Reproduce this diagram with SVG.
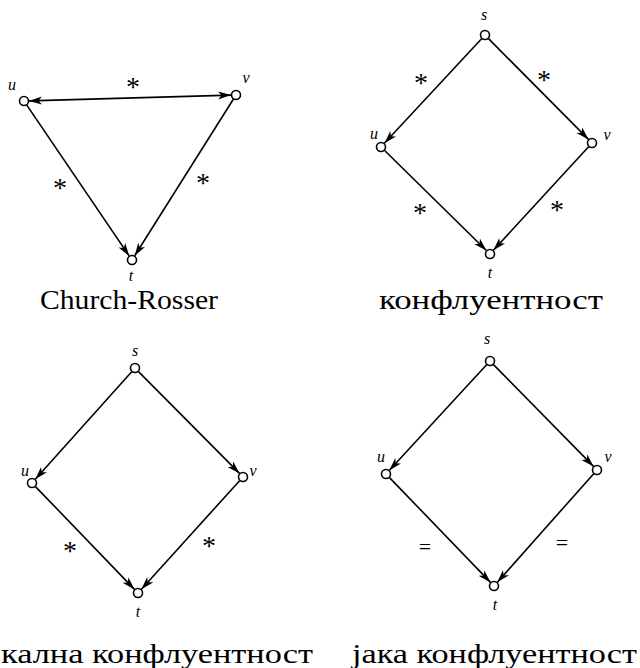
<svg xmlns="http://www.w3.org/2000/svg" width="640" height="668" viewBox="0 0 640 668">
<defs>
<marker id="arr" markerUnits="userSpaceOnUse" markerWidth="16" markerHeight="10" refX="13" refY="4" orient="auto-start-reverse">
<path d="M0,0 L13,4 L0,8 L3.5,4 z" fill="#000"/>
</marker>
<style>
.edge{stroke:#000;stroke-width:1.6;fill:none;marker-end:url(#arr)}
.node{fill:#fff;stroke:#000;stroke-width:1.6}
.lbl{font-family:"Liberation Serif",serif;font-style:italic;font-size:16px;text-anchor:middle;fill:#000}
.ast{font-family:"Liberation Serif",serif;font-size:28px;text-anchor:middle;fill:#000}
.eq{font-family:"Liberation Serif",serif;font-size:22px;text-anchor:middle;fill:#000}
.cap{font-family:"Liberation Serif",serif;font-size:28px;fill:#000}
</style>
</defs>
<rect width="640" height="668" fill="#fff"/>
<g id="connectors">
<line class="edge" x1="29" y1="100.9" x2="231" y2="95.1" style="marker-start:url(#arr)"/>
<line class="edge" x1="26.8" y1="105.1" x2="129.2" y2="255.9"/>
<line class="edge" x1="233.3" y1="99.2" x2="134.7" y2="255.8"/>
<line class="edge" x1="481.6" y1="38.7" x2="384.4" y2="143.3"/>
<line class="edge" x1="488.5" y1="38.6" x2="588.5" y2="139.4"/>
<line class="edge" x1="384.6" y1="150.5" x2="486.4" y2="250.5"/>
<line class="edge" x1="588.6" y1="146.7" x2="493.4" y2="250.3"/>
<line class="edge" x1="131.7" y1="371.7" x2="35.3" y2="479.3"/>
<line class="edge" x1="138.5" y1="371.6" x2="239.5" y2="473.4"/>
<line class="edge" x1="35.5" y1="486.6" x2="134.5" y2="589.4"/>
<line class="edge" x1="239.6" y1="480.7" x2="141.4" y2="589.3"/>
<line class="edge" x1="486.6" y1="364.7" x2="389.4" y2="470.3"/>
<line class="edge" x1="493.5" y1="364.6" x2="593.5" y2="466.4"/>
<line class="edge" x1="389.5" y1="477.6" x2="490.5" y2="582.4"/>
<line class="edge" x1="593.7" y1="473.7" x2="497.3" y2="582.3"/>
<text class="ast" x="133" y="96">*</text>
<text class="ast" x="60" y="197">*</text>
<text class="ast" x="203" y="192">*</text>
<text class="ast" x="421" y="92">*</text>
<text class="ast" x="544" y="89">*</text>
<text class="ast" x="420" y="222">*</text>
<text class="ast" x="557" y="219">*</text>
<text class="ast" x="70" y="560">*</text>
<text class="ast" x="209" y="555">*</text>
<text class="eq" x="425" y="554">=</text>
<text class="eq" x="562" y="550">=</text>
</g>
<g id="d1-u"><circle class="node" cx="24" cy="101" r="4.5"/><text class="lbl" x="12" y="90">u</text></g>
<g id="d1-v"><circle class="node" cx="236" cy="95" r="4.5"/><text class="lbl" x="246" y="83">v</text></g>
<g id="d1-t"><circle class="node" cx="132" cy="260" r="4.5"/><text class="lbl" x="131" y="281">t</text></g>
<g id="d2-s"><circle class="node" cx="485" cy="35" r="4.5"/><text class="lbl" x="484" y="20">s</text></g>
<g id="d2-u"><circle class="node" cx="381" cy="147" r="4.5"/><text class="lbl" x="374" y="139">u</text></g>
<g id="d2-v"><circle class="node" cx="592" cy="143" r="4.5"/><text class="lbl" x="607" y="140">v</text></g>
<g id="d2-t"><circle class="node" cx="490" cy="254" r="4.5"/><text class="lbl" x="490" y="278">t</text></g>
<g id="d3-s"><circle class="node" cx="135" cy="368" r="4.5"/><text class="lbl" x="135" y="356">s</text></g>
<g id="d3-u"><circle class="node" cx="32" cy="483" r="4.5"/><text class="lbl" x="25" y="476">u</text></g>
<g id="d3-v"><circle class="node" cx="243" cy="477" r="4.5"/><text class="lbl" x="253" y="476">v</text></g>
<g id="d3-t"><circle class="node" cx="138" cy="593" r="4.5"/><text class="lbl" x="138" y="617">t</text></g>
<g id="d4-s"><circle class="node" cx="490" cy="361" r="4.5"/><text class="lbl" x="487" y="344">s</text></g>
<g id="d4-u"><circle class="node" cx="386" cy="474" r="4.5"/><text class="lbl" x="381" y="462">u</text></g>
<g id="d4-v"><circle class="node" cx="597" cy="470" r="4.5"/><text class="lbl" x="608" y="462">v</text></g>
<g id="d4-t"><circle class="node" cx="494" cy="586" r="4.5"/><text class="lbl" x="495" y="610">t</text></g>
<g id="captions">
<text class="cap" x="40" y="309" textLength="178" lengthAdjust="spacingAndGlyphs">Church-Rosser</text>
<text class="cap" x="379" y="309" textLength="224" lengthAdjust="spacingAndGlyphs">конфлуентност</text>
<text class="cap" x="1" y="663" textLength="312" lengthAdjust="spacingAndGlyphs">кална конфлуентност</text>
<text class="cap" x="352" y="663" textLength="285" lengthAdjust="spacingAndGlyphs">јака конфлуентност</text>
</g>
</svg>
